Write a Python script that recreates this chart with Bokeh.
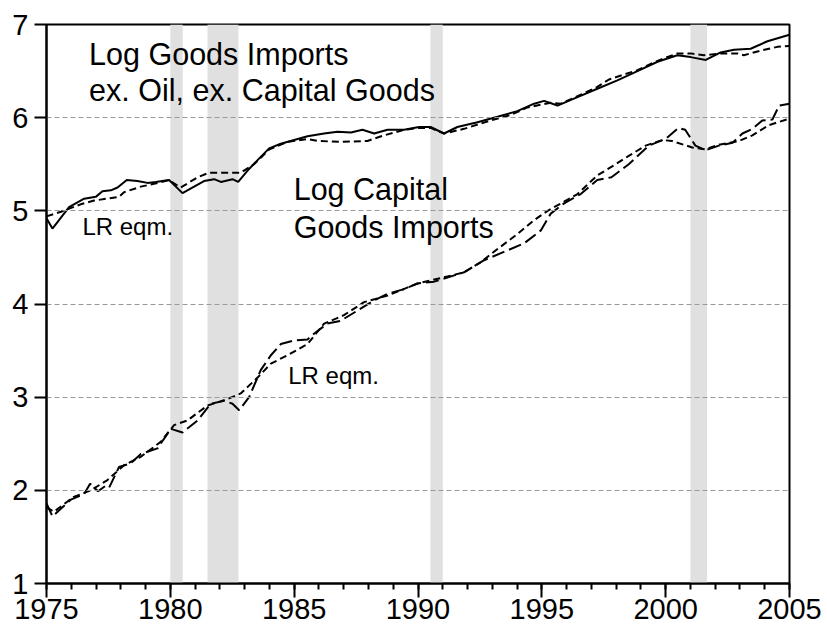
from bokeh.plotting import figure
from bokeh.models import Range1d, FixedTicker, ColumnDataSource
from bokeh.core.properties import value
from bokeh.embed import file_html
from bokeh.resources import INLINE

# ---------------- data ----------------
goods_dates = [1975.0, 1975.24, 1975.91, 1976.52, 1976.99, 1977.26, 1977.6, 1977.87, 1978.24, 1978.67,
               1979.08, 1979.41, 1979.95, 1980.49, 1980.96, 1981.36, 1981.77, 1982.04, 1982.51, 1982.74,
               1983.11, 1983.58, 1983.99, 1984.46, 1985.0, 1985.54, 1986.21, 1986.75, 1987.29, 1987.76,
               1988.23, 1988.77, 1989.44, 1990.04, 1990.51, 1991.05, 1991.59, 1992.40, 1993.21, 1994.01,
               1994.69, 1995.09, 1995.63, 1996.44, 1997.24, 1998.05, 1998.86, 1999.67, 2000.47, 2001.01,
               2001.62, 2002.22, 2002.76, 2003.43, 2004.11, 2005.0]
goods_actual = [4.92, 4.81, 5.04, 5.13, 5.15, 5.21, 5.22, 5.25, 5.33, 5.32,
                5.30, 5.31, 5.33, 5.19, 5.26, 5.32, 5.34, 5.31, 5.34, 5.31,
                5.43, 5.56, 5.67, 5.72, 5.76, 5.80, 5.83, 5.85, 5.84, 5.87,
                5.83, 5.87, 5.87, 5.90, 5.90, 5.83, 5.90, 5.95, 6.01, 6.07,
                6.15, 6.18, 6.13, 6.22, 6.31, 6.40, 6.50, 6.60, 6.67, 6.65,
                6.62, 6.70, 6.73, 6.74, 6.82, 6.89]

goods_lr_dates = [1975.0, 1975.58, 1976.38, 1976.92, 1977.93, 1978.13, 1978.81, 1979.34, 1979.95, 1980.42,
                  1981.1, 1981.56, 1982.11, 1982.84, 1983.38, 1984.0, 1984.73, 1985.54, 1985.94, 1986.88,
                  1987.96, 1988.63, 1989.44, 1990.04, 1990.51, 1991.05, 1991.86, 1992.94, 1993.75, 1994.42,
                  1995.36, 1995.77, 1996.44, 1997.24, 1997.71, 1998.86, 1999.67, 2000.47, 2001.01, 2001.55,
                  2002.22, 2002.9, 2003.16, 2003.84, 2004.51, 2005.0]
goods_lr = [4.94, 4.99, 5.07, 5.11, 5.15, 5.20, 5.26, 5.29, 5.33, 5.25,
            5.36, 5.41, 5.41, 5.41, 5.50, 5.66, 5.74, 5.77, 5.75, 5.74,
            5.75, 5.81, 5.87, 5.89, 5.89, 5.83, 5.88, 5.97, 6.03, 6.11,
            6.16, 6.15, 6.23, 6.33, 6.41, 6.51, 6.61, 6.69, 6.69, 6.67,
            6.69, 6.69, 6.67, 6.72, 6.76, 6.77]

capital_dates = [1975.0, 1975.24, 1975.98, 1976.52, 1976.76, 1977.08, 1977.39, 1977.53, 1977.93, 1978.40,
                 1978.81, 1979.48, 1980.02, 1980.49, 1981.1, 1981.63, 1982.17, 1982.51, 1982.78, 1983.18,
                 1983.65, 1984.06, 1984.46, 1985.0, 1985.54, 1985.8, 1986.34, 1986.88, 1987.56, 1988.23,
                 1988.77, 1989.44, 1989.98, 1990.65, 1991.86, 1992.67, 1993.47, 1994.28, 1994.96, 1995.36,
                 1995.9, 1996.57, 1997.24, 1997.81, 1998.51, 1999.32, 1999.99, 2000.52, 2000.79, 2001.2,
                 2001.61, 2002.15, 2002.7, 2003.10, 2003.5, 2003.9, 2004.31, 2004.58, 2005.0]
capital_actual = [1.86, 1.72, 1.90, 1.96, 2.07, 1.99, 2.05, 2.03, 2.25, 2.29,
                  2.39, 2.45, 2.66, 2.62, 2.75, 2.93, 2.96, 2.93, 2.86, 3.00,
                  3.29, 3.45, 3.57, 3.61, 3.62, 3.68, 3.79, 3.82, 3.93, 4.04,
                  4.11, 4.16, 4.22, 4.24, 4.34, 4.47, 4.56, 4.65, 4.79, 4.97,
                  5.08, 5.18, 5.33, 5.36, 5.50, 5.70, 5.77, 5.89, 5.87, 5.70,
                  5.65, 5.70, 5.73, 5.83, 5.88, 5.97, 5.98, 6.13, 6.15]

capital_lr_dates = [1975.0, 1975.3, 1976.1, 1976.79, 1977.46, 1978.13, 1978.81, 1979.61, 1980.15, 1980.69,
                    1981.5, 1982.31, 1982.84, 1983.52, 1984.06, 1984.73, 1985.54, 1986.21, 1987.01, 1987.82,
                    1988.77, 1989.98, 1990.79, 1991.86, 1992.54, 1993.21, 1994.01, 1994.69, 1995.23, 1995.77,
                    1996.44, 1997.24, 1997.92, 1998.51, 1999.19, 1999.86, 2000.26, 2001.07, 2001.61, 2002.15,
                    2002.96, 2003.5, 2004.17, 2005.0]
capital_lr = [1.82, 1.77, 1.93, 2.00, 2.11, 2.27, 2.36, 2.52, 2.70, 2.75,
              2.91, 2.98, 3.04, 3.21, 3.36, 3.45, 3.57, 3.79, 3.88, 4.02,
              4.09, 4.22, 4.27, 4.34, 4.45, 4.59, 4.75, 4.90, 5.00, 5.08,
              5.18, 5.38, 5.49, 5.59, 5.70, 5.76, 5.75, 5.68, 5.66, 5.71,
              5.75, 5.81, 5.92, 5.99]

recession_start = [1980.0, 1981.5, 1990.5, 2001.0]
recession_end = [1980.5, 1982.75, 1991.0, 2001.67]

x_major_ticks = [1975, 1980, 1985, 1990, 1995, 2000, 2005]
x_minor_ticks = list(range(1975, 2006))
y_ticks = [1, 2, 3, 4, 5, 6, 7]
grid_ticks = [2, 3, 4, 5, 6]

big_labels = ["Log Goods Imports", "ex. Oil, ex. Capital Goods", "Log Capital", "Goods Imports"]
big_label_x = [1976.72, 1976.72, 1984.98, 1984.98]
big_label_y = [6.686, 6.30, 5.229, 4.827]
small_labels = ["LR eqm.", "LR eqm."]
small_label_x = [1976.45, 1984.76]
small_label_y = [4.83, 3.233]

FONT = "Liberation Sans"

# ---------------- figure ----------------
p = figure(width=827, height=633,
           x_range=Range1d(1975, 2005), y_range=Range1d(1, 7),
           output_backend="svg", toolbar_location=None,
           min_border_left=46, min_border_right=38, min_border_top=24, min_border_bottom=50)
p.background_fill_color = "white"
p.border_fill_color = "white"
p.outline_line_color = "black"
p.outline_line_width = 2

# recession bands
rec = ColumnDataSource(dict(left=recession_start, right=recession_end,
                            bottom=[1] * len(recession_start), top=[7] * len(recession_start)))
p.quad(left="left", right="right", bottom="bottom", top="top", source=rec,
       fill_color="#e0e0e0", line_color=None, level="underlay")

# axes
xax = p.xaxis[0]
yax = p.yaxis[0]
xax.ticker = FixedTicker(ticks=x_major_ticks, minor_ticks=x_minor_ticks)
yax.ticker = FixedTicker(ticks=y_ticks)
for ax in (xax, yax):
    ax.axis_line_color = "black"
    ax.axis_line_width = 2
    ax.major_tick_line_color = "black"
    ax.major_tick_line_width = 2
    ax.minor_tick_line_color = "black"
    ax.minor_tick_line_width = 2
    ax.major_label_text_font = FONT
    ax.major_label_text_font_size = "29px"
    ax.major_label_text_color = "black"
xax.major_tick_in = 0
xax.major_tick_out = 14
xax.minor_tick_in = 0
xax.minor_tick_out = 6
xax.major_label_standoff = 1
yax.major_tick_out = 12
yax.major_tick_in = 0
yax.minor_tick_line_color = None
yax.major_label_standoff = 6

# grid
p.xgrid.visible = False
p.ygrid.ticker = FixedTicker(ticks=grid_ticks)
p.ygrid.grid_line_color = "#9a9a9a"
p.ygrid.grid_line_dash = "5 3"
p.ygrid.grid_line_width = 1
p.ygrid.level = "glyph"

# lines
p.line(goods_dates, goods_actual, line_color="black", line_width=2)
p.line(goods_lr_dates, goods_lr, line_color="black", line_width=2, line_dash="7 4")
p.line(capital_dates, capital_actual, line_color="black", line_width=2, line_dash="13 5")
p.line(capital_lr_dates, capital_lr, line_color="black", line_width=2, line_dash="7 4")

# labels
p.text(x=big_label_x, y=big_label_y, text=big_labels,
       text_font=value(FONT), text_font_size=value("30.5px"),
       text_baseline="middle", text_align="left", text_color="black")
p.text(x=small_label_x, y=small_label_y, text=small_labels,
       text_font=value(FONT), text_font_size=value("24px"),
       text_baseline="middle", text_align="left", text_color="black")

open("out.html", "w").write(file_html(p, INLINE))
